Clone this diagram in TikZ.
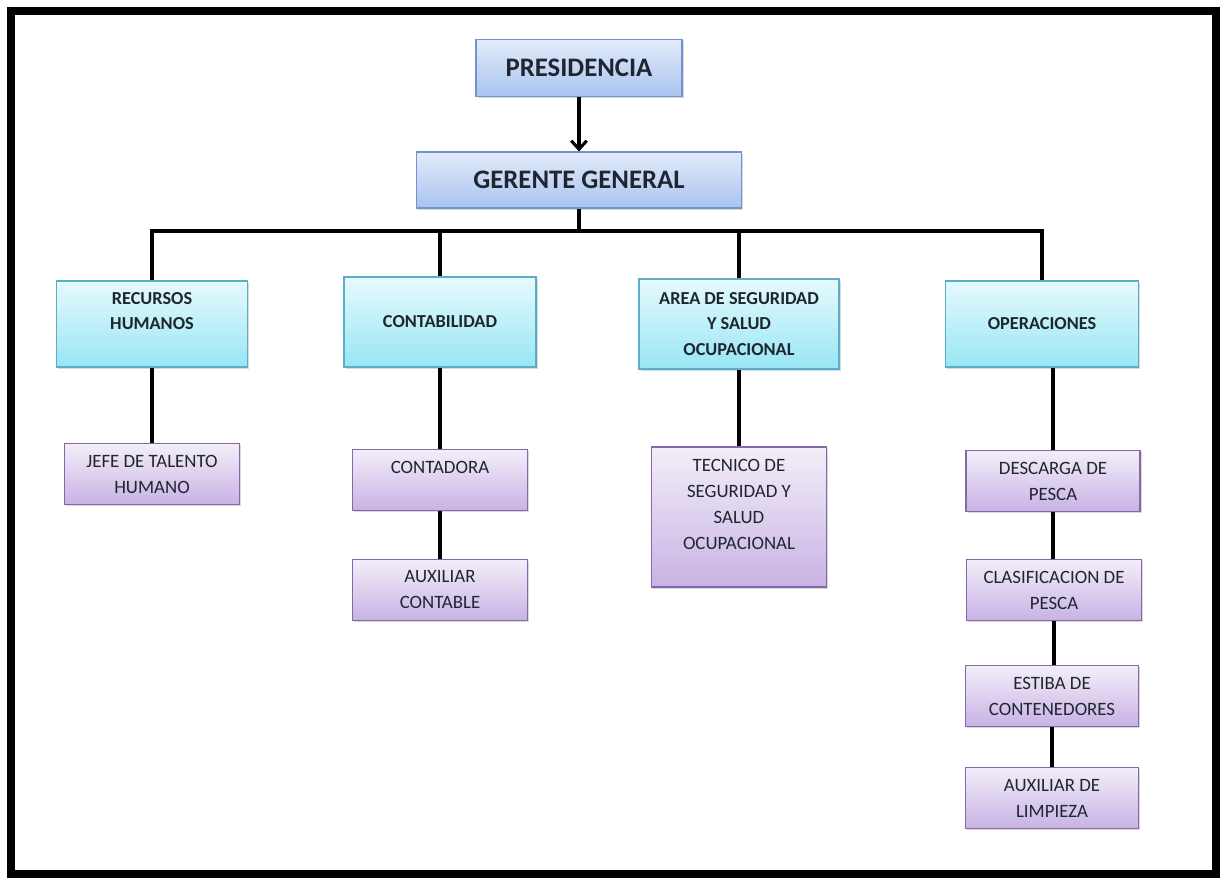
\documentclass[tikz,border=0pt]{standalone}
\usepackage{fontspec}
\setmainfont{Carlito}
\usetikzlibrary{arrows.meta,shadows}
\definecolor{bossA}{HTML}{E3EBFA}
\definecolor{bossB}{HTML}{A9C3F0}
\definecolor{bossline}{HTML}{7393CF}
\definecolor{areaA}{HTML}{E6FAFD}
\definecolor{areaB}{HTML}{98E6F4}
\definecolor{arealine}{HTML}{5AAFC8}
\definecolor{subA}{HTML}{F3EEF9}
\definecolor{subB}{HTML}{C8B2E4}
\definecolor{subline}{HTML}{8468A8}
\definecolor{ink}{HTML}{1E2630}
\begin{document}
\begin{tikzpicture}[x=0.025cm,y=-0.025cm,
  box/.style={line width=0.8pt, align=center, inner sep=0pt, text=ink,
    drop shadow={shadow xshift=1.2pt, shadow yshift=-1.2pt, opacity=0.3}},
  boss/.style={box, draw=bossline, top color=bossA, bottom color=bossB,
    font=\fontsize{19}{23}\selectfont\bfseries},
  area/.style={box, draw=arealine, top color=areaA, bottom color=areaB,
    font=\fontsize{13}{18}\selectfont\bfseries},
  sub/.style={box, draw=subline, top color=subA, bottom color=subB,
    font=\fontsize{13.4}{18.5}\selectfont, minimum width=4.38cm, minimum height=1.53cm},
  link/.style={line width=2.6pt}]
\useasboundingbox (0,0) rectangle (1224,882);
\draw[line width=5.7pt] (11,11) rectangle (1216,874);

\node[boss, minimum width=5.15cm, minimum height=1.43cm] (pr) at (579,68) {PRESIDENCIA};
\node[boss, minimum width=8.13cm, minimum height=1.4cm] (gg) at (579,180) {GERENTE GENERAL};

\node[area, minimum width=4.78cm, minimum height=2.15cm] (rh) at (152,324) {RECURSOS\\HUMANOS\\~};
\node[area, minimum width=4.8cm, minimum height=2.25cm] (co) at (440,322) {CONTABILIDAD};
\node[area, minimum width=5.0cm, minimum height=2.25cm] (as) at (739,324) {AREA DE SEGURIDAD\\Y SALUD\\OCUPACIONAL};
\node[area, minimum width=4.83cm, minimum height=2.15cm] (op) at (1042,324) {OPERACIONES};

\node[sub] (jt) at (152,474) {JEFE DE TALENTO\\HUMANO};
\node[sub] (ca) at (440,480) {CONTADORA\\~};
\node[sub] (ac) at (440,590) {AUXILIAR\\CONTABLE};
\node[sub, minimum height=3.5cm] (ts) at (739,517) {TECNICO DE\\SEGURIDAD Y\\SALUD\\OCUPACIONAL\\~};
\node[sub, minimum width=4.35cm] (dp) at (1053,481) {DESCARGA DE\\PESCA};
\node[sub] (cp) at (1054,590) {CLASIFICACION DE\\PESCA};
\node[sub, minimum width=4.33cm] (ec) at (1052,696) {ESTIBA DE\\CONTENEDORES};
\node[sub, minimum width=4.33cm] (al) at (1052,798) {AUXILIAR DE\\LIMPIEZA};

\coordinate (bus) at (579,231);
\draw[line width=2.2pt, -{Straight Barb[length=6pt,width=11pt]}] (pr) -- (gg);
\draw[link] (gg) -- (bus);
\draw[link] (bus) -| (rh);
\draw[link] (bus) -| (co);
\draw[link] (bus) -| (as);
\draw[link] (bus) -| (op);

\draw[link] (rh) -- (jt);
\draw[link] (co) -- (ca);
\draw[link] (ca) -- (ac);
\draw[link] (as) -- (ts);
\draw[link] (op.south -| dp) -- (dp);
\draw[link] (dp) -- (dp |- cp.north);
\draw[link] (cp) -- (cp |- ec.north);
\draw[link] (ec) -- (al);
\end{tikzpicture}
\end{document}
